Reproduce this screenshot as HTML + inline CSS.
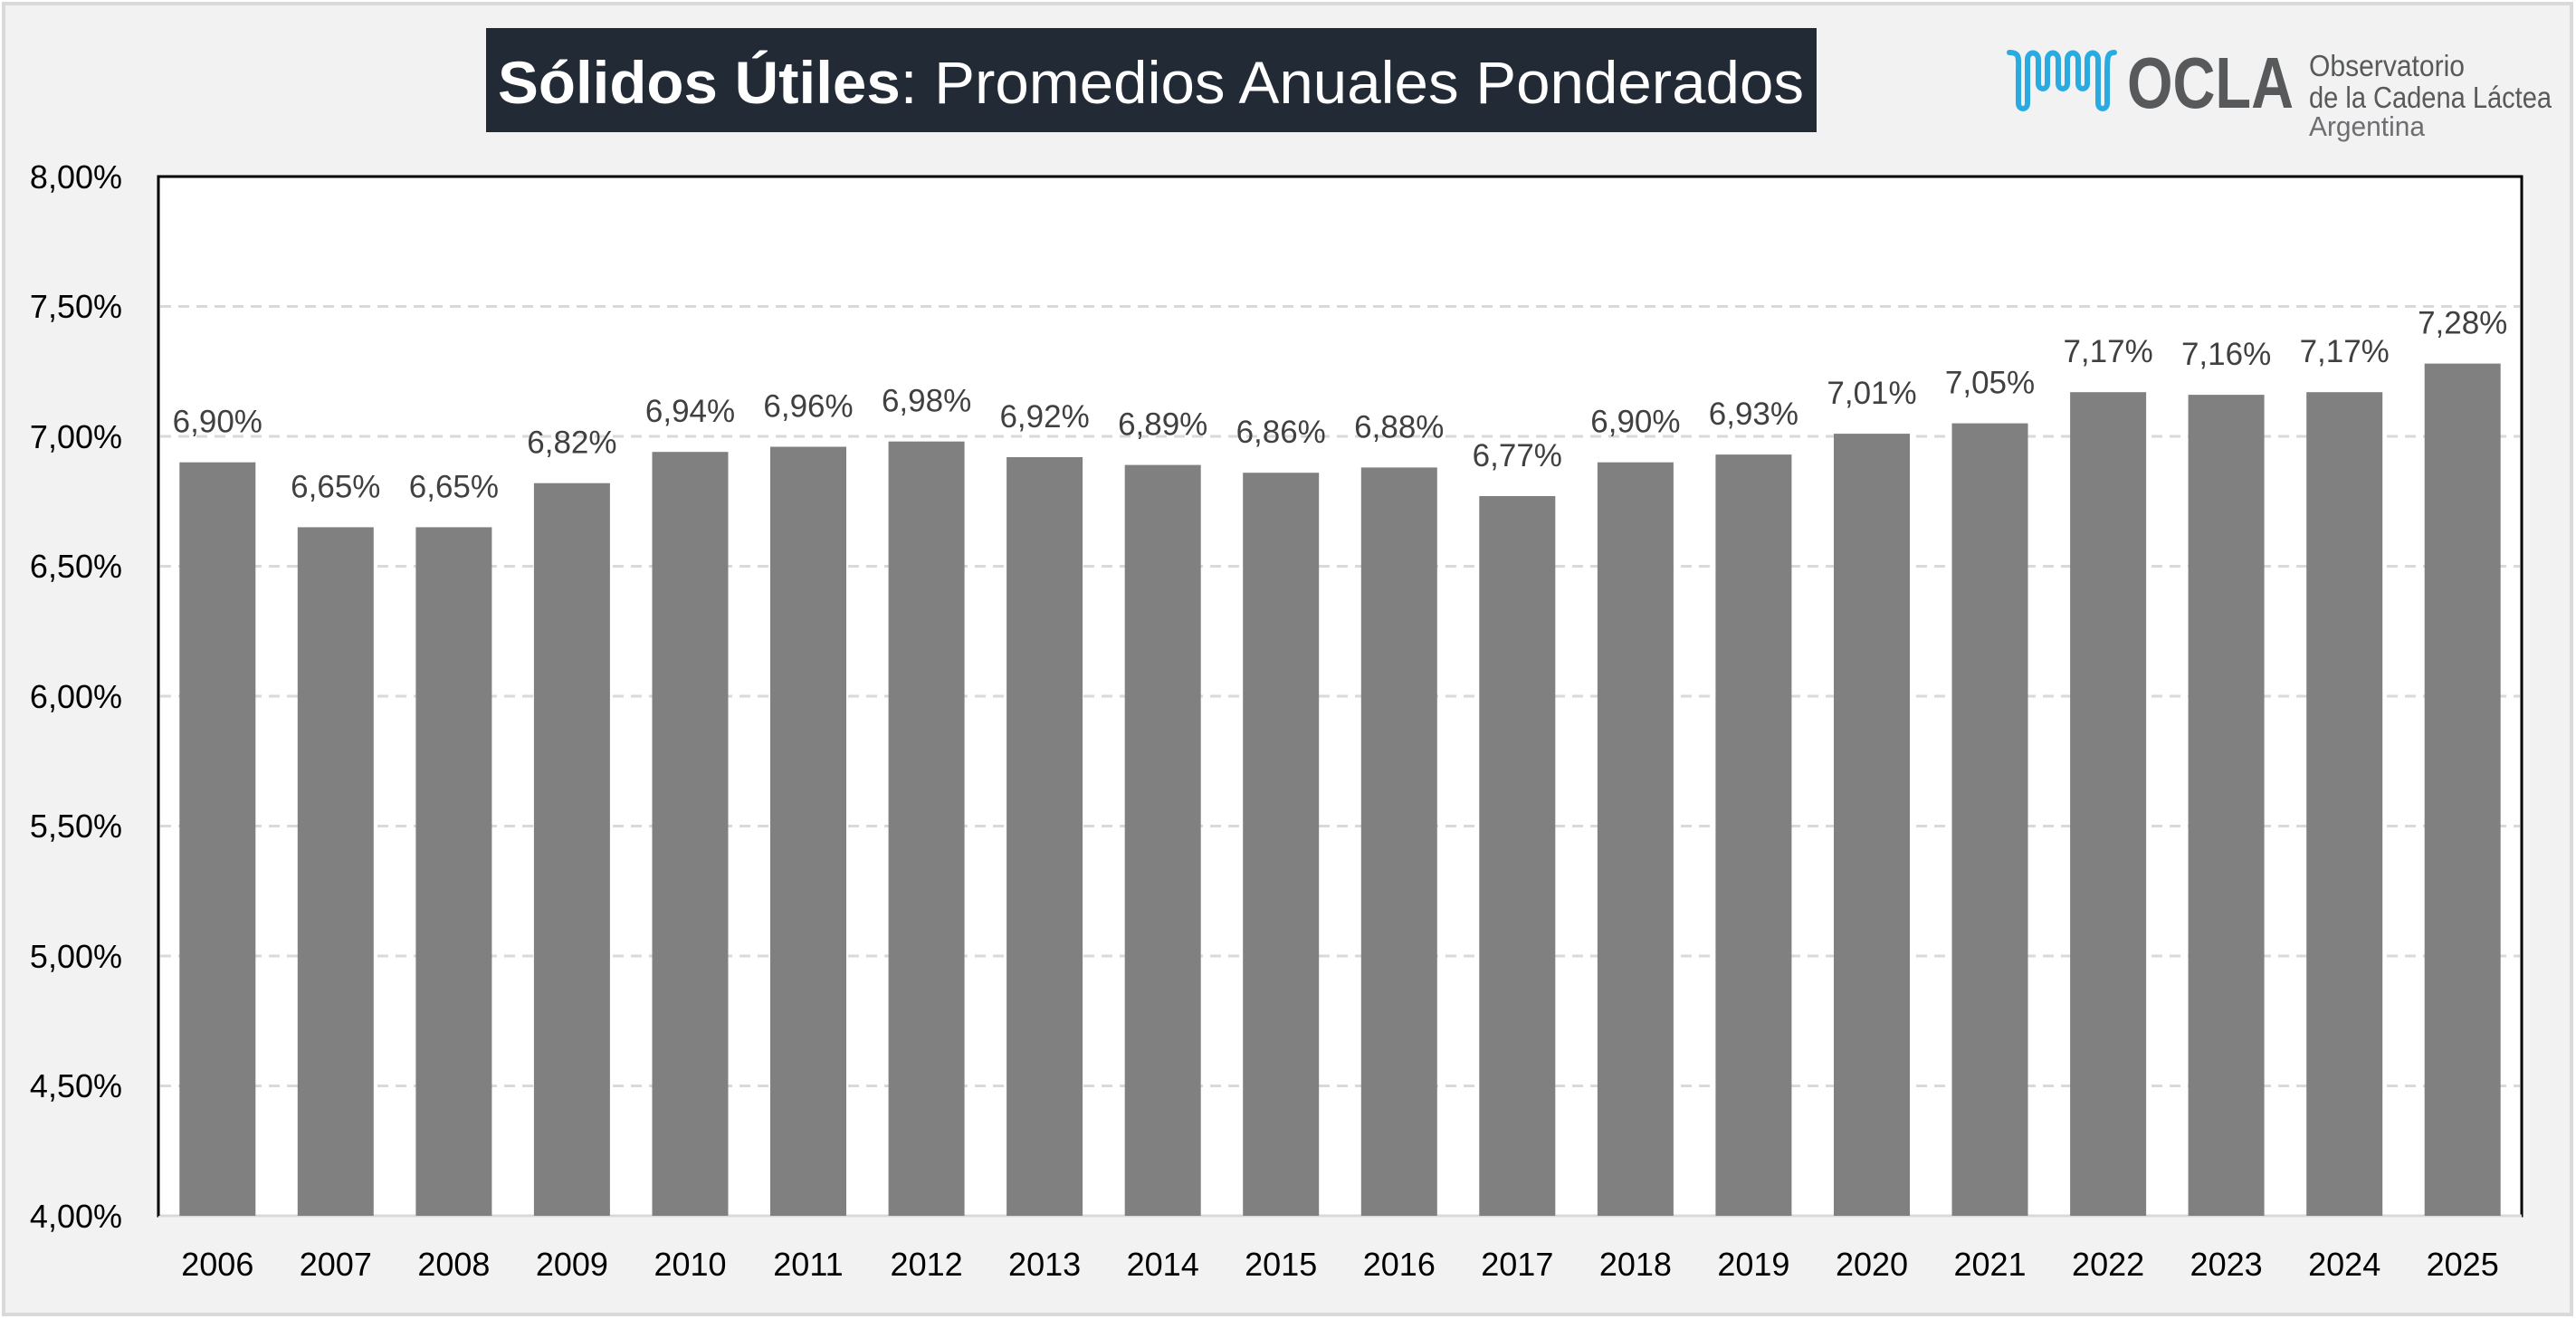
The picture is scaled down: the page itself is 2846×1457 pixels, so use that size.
<!DOCTYPE html>
<html><head><meta charset="utf-8"><style>
html,body{margin:0;padding:0;background:#fff;}
svg{display:block;}
text{font-family:"Liberation Sans",sans-serif;}
</style></head><body>
<svg width="2846" height="1457" viewBox="0 0 2846 1457" xmlns="http://www.w3.org/2000/svg">
<rect x="0" y="0" width="2846" height="1457" fill="#fff"/>
<rect x="4" y="4" width="2837" height="1448" fill="#f2f2f2" stroke="#d9d9d9" stroke-width="4"/>
<rect x="537" y="31" width="1470" height="115" fill="#222a35"/>
<text x="550" y="114" font-size="66" fill="#fff" textLength="1443" lengthAdjust="spacingAndGlyphs"><tspan font-weight="bold">Sólidos Útiles</tspan>: Promedios Anuales Ponderados</text>
<g fill="none" stroke-width="6" stroke-linecap="round">
<path d="M2220 58 C2232 58 2230 64 2230 80 L2230 114 C2230 122 2240 122 2240 114 L2240 66 C2240 56 2252 56 2252 66 L2252 92 C2252 100 2262 100 2262 92 L2262 66 C2262 56 2274 56 2274 66 L2274 92 C2274 100 2284 100 2284 92 L2284 66 C2284 56 2296 56 2296 66 L2296 92 C2296 100 2306 100 2306 92 L2306 66 C2306 56 2318 56 2318 66 L2318 114 C2318 122 2328 122 2328 114 L2328 80 C2328 64 2328 58 2336 58" stroke="#29abe2"/>
</g>
<text x="2350" y="119" font-size="80" font-weight="bold" fill="#58595b" textLength="184" lengthAdjust="spacingAndGlyphs">OCLA</text>
<text x="2551" y="84" font-size="33" fill="#58595b" textLength="172" lengthAdjust="spacingAndGlyphs">Observatorio</text>
<text x="2551" y="119" font-size="33" fill="#58595b" textLength="268" lengthAdjust="spacingAndGlyphs">de la Cadena Láctea</text>
<text x="2551" y="150" font-size="31" fill="#6d6e71" textLength="128" lengthAdjust="spacingAndGlyphs">Argentina</text>
<rect x="175" y="195" width="2611" height="1148" fill="#fff" stroke="#000" stroke-width="3"/>
<g stroke="#d9d9d9" stroke-width="3" stroke-dasharray="12,8">
<line x1="177" x2="2784" y1="338.5" y2="338.5"/>
<line x1="177" x2="2784" y1="482" y2="482"/>
<line x1="177" x2="2784" y1="625.5" y2="625.5"/>
<line x1="177" x2="2784" y1="769" y2="769"/>
<line x1="177" x2="2784" y1="912.5" y2="912.5"/>
<line x1="177" x2="2784" y1="1056" y2="1056"/>
<line x1="177" x2="2784" y1="1199.5" y2="1199.5"/>
</g>
<line x1="175" x2="2786" y1="1343" y2="1343" stroke="#d9d9d9" stroke-width="3"/>
<line x1="175" x2="175" y1="195" y2="1343" stroke="#000" stroke-width="3"/>
<g font-size="36" fill="#000" text-anchor="end">
<text x="135" y="208">8,00%</text>
<text x="135" y="351">7,50%</text>
<text x="135" y="495">7,00%</text>
<text x="135" y="638">6,50%</text>
<text x="135" y="782">6,00%</text>
<text x="135" y="925">5,50%</text>
<text x="135" y="1069">5,00%</text>
<text x="135" y="1212">4,50%</text>
<text x="135" y="1356">4,00%</text>
</g>
<g fill="#808080">
<rect x="198.3" y="510.7" width="84" height="832.3"/>
<rect x="328.8" y="582.4" width="84" height="760.6"/>
<rect x="459.4" y="582.4" width="84" height="760.6"/>
<rect x="589.9" y="533.7" width="84" height="809.3"/>
<rect x="720.5" y="499.2" width="84" height="843.8"/>
<rect x="851.0" y="493.5" width="84" height="849.5"/>
<rect x="981.6" y="487.7" width="84" height="855.3"/>
<rect x="1112.1" y="505.0" width="84" height="838.0"/>
<rect x="1242.7" y="513.6" width="84" height="829.4"/>
<rect x="1373.2" y="522.2" width="84" height="820.8"/>
<rect x="1503.8" y="516.4" width="84" height="826.6"/>
<rect x="1634.3" y="548.0" width="84" height="795.0"/>
<rect x="1764.9" y="510.7" width="84" height="832.3"/>
<rect x="1895.4" y="502.1" width="84" height="840.9"/>
<rect x="2026.0" y="479.1" width="84" height="863.9"/>
<rect x="2156.5" y="467.6" width="84" height="875.4"/>
<rect x="2287.1" y="433.2" width="84" height="909.8"/>
<rect x="2417.6" y="436.1" width="84" height="906.9"/>
<rect x="2548.2" y="433.2" width="84" height="909.8"/>
<rect x="2678.7" y="401.6" width="84" height="941.4"/>
</g>
<g font-size="35" fill="#404040" text-anchor="middle">
<text x="240.3" y="477.7">6,90%</text>
<text x="370.8" y="549.4">6,65%</text>
<text x="501.4" y="549.4">6,65%</text>
<text x="631.9" y="500.7">6,82%</text>
<text x="762.5" y="466.2">6,94%</text>
<text x="893.0" y="460.5">6,96%</text>
<text x="1023.6" y="454.7">6,98%</text>
<text x="1154.1" y="472.0">6,92%</text>
<text x="1284.7" y="480.6">6,89%</text>
<text x="1415.2" y="489.2">6,86%</text>
<text x="1545.8" y="483.4">6,88%</text>
<text x="1676.3" y="515.0">6,77%</text>
<text x="1806.9" y="477.7">6,90%</text>
<text x="1937.4" y="469.1">6,93%</text>
<text x="2068.0" y="446.1">7,01%</text>
<text x="2198.5" y="434.6">7,05%</text>
<text x="2329.1" y="400.2">7,17%</text>
<text x="2459.6" y="403.1">7,16%</text>
<text x="2590.2" y="400.2">7,17%</text>
<text x="2720.7" y="368.6">7,28%</text>
</g>
<g font-size="36" fill="#000" text-anchor="middle">
<text x="240.3" y="1409">2006</text>
<text x="370.8" y="1409">2007</text>
<text x="501.4" y="1409">2008</text>
<text x="631.9" y="1409">2009</text>
<text x="762.5" y="1409">2010</text>
<text x="893.0" y="1409">2011</text>
<text x="1023.6" y="1409">2012</text>
<text x="1154.1" y="1409">2013</text>
<text x="1284.7" y="1409">2014</text>
<text x="1415.2" y="1409">2015</text>
<text x="1545.8" y="1409">2016</text>
<text x="1676.3" y="1409">2017</text>
<text x="1806.9" y="1409">2018</text>
<text x="1937.4" y="1409">2019</text>
<text x="2068.0" y="1409">2020</text>
<text x="2198.5" y="1409">2021</text>
<text x="2329.1" y="1409">2022</text>
<text x="2459.6" y="1409">2023</text>
<text x="2590.2" y="1409">2024</text>
<text x="2720.7" y="1409">2025</text>
</g>
</svg>
</body></html>
